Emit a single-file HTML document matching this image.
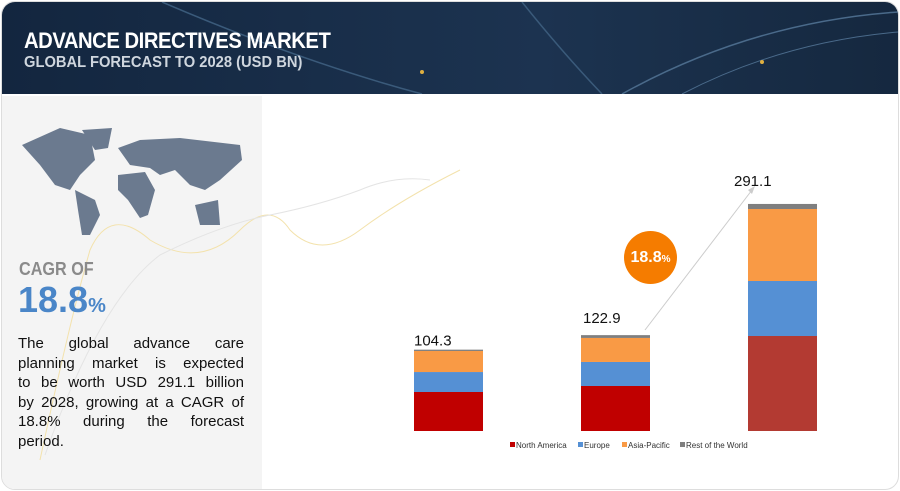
<!DOCTYPE html>
<html><head><meta charset="utf-8"><style>
body{margin:0;width:900px;height:491px;background:#fff;font-family:"Liberation Sans",sans-serif;overflow:hidden;position:relative}
.abs{position:absolute}
.ln{text-align:justify;text-align-last:justify;height:19.5px}
</style></head><body>
<div class="abs" style="left:1px;top:1px;width:896px;height:487px;border:1px solid #ddd;border-radius:14px;overflow:hidden">
<div class="abs" style="left:0;top:0;width:896px;height:92px;background:linear-gradient(90deg,#13263f,#1c3350 60%,#15283f)">
<svg width="896" height="92" class="abs" style="left:0;top:0">
<path d="M160 0 Q300 60 420 92" stroke="#3a5a7a" fill="none" stroke-width="1.5"/>
<path d="M520 0 Q560 50 600 92" stroke="#3a5a7a" fill="none" stroke-width="1.5"/>
<path d="M620 92 Q750 20 896 10" stroke="#4a6a8a" fill="none" stroke-width="1.5"/>
<path d="M680 92 Q780 40 896 30" stroke="#4a6a8a" fill="none" stroke-width="1"/>
<circle cx="420" cy="70" r="2" fill="#e0b040"/><circle cx="760" cy="60" r="2" fill="#e0b040"/>
</svg>
<div class="abs" style="left:22px;top:26px;color:#fff;font-weight:bold;font-size:22px;letter-spacing:-0.5px;transform:scaleX(0.92);transform-origin:left">ADVANCE DIRECTIVES MARKET</div>
<div class="abs" style="left:22px;top:52px;color:#cfd6de;font-weight:bold;font-size:16px;transform:scaleX(0.92);transform-origin:left">GLOBAL FORECAST TO 2028 (USD BN)</div>
</div>
<div class="abs" style="left:0;top:94px;width:260px;height:395px;background:#f4f4f4"></div>
</div>
<svg class="abs" style="left:0;top:0" width="900" height="491">
<path d="M40 460 Q70 320 90 250 Q110 205 150 240 Q200 270 240 230 Q270 200 290 230 Q320 260 360 230 Q400 200 460 170" stroke="#f3e2ac" fill="none" stroke-width="1"/>
<path d="M45 455 Q100 300 160 255 Q220 225 270 215 Q320 205 360 190 Q395 175 430 180" stroke="#e4e4e4" fill="none" stroke-width="1"/>
<g fill="#6b7a8f">
<path d="M22 145 L60 128 L90 135 L95 160 L80 175 L70 190 L55 185 L40 165Z"/>
<path d="M82 130 L112 128 L108 148 L95 150Z"/>
<path d="M75 190 L95 200 L100 215 L90 235 L82 235 L78 210Z"/>
<path d="M118 148 L140 140 L180 138 L240 145 L242 160 L220 180 L205 190 L190 185 L175 170 L160 175 L150 168 L130 165Z"/>
<path d="M118 175 L145 172 L155 190 L148 215 L140 218 L128 200 L118 190Z"/>
<path d="M195 205 L218 200 L220 225 L200 225Z"/>
</g>
<line x1="645" y1="330" x2="752" y2="190" stroke="#ccc" stroke-width="1"/>
<polygon points="755,186 748,190 752,194" fill="#ccc"/>
</svg>
<div class="abs" style="left:19px;top:259px;color:#8a8a8a;font-weight:bold;font-size:18px;transform:scaleX(0.9);transform-origin:left">CAGR OF</div>
<div class="abs" style="left:18px;top:279px;color:#4a86c8;font-weight:bold;font-size:36px">18.8<span style="font-size:20px">%</span></div>
<div class="abs" style="left:18px;top:334px;width:226px;color:#111;font-size:15px;line-height:19.5px">
<div class="ln">The global advance care</div>
<div class="ln">planning market is expected</div>
<div class="ln">to be worth USD 291.1 billion</div>
<div class="ln">by 2028, growing at a CAGR of</div>
<div class="ln">18.8% during the forecast</div>
<div>period.</div>
</div>
<div class="abs" style="left:624px;top:231px;width:53px;height:53px;border-radius:50%;background:#f57c00;color:#fff;font-weight:bold;font-size:16px;line-height:53px;text-align:center">18.8<span style="font-size:10px">%</span></div>
<svg id="chart" class="abs" style="left:0;top:0" width="900" height="491"></svg>
<script>
const categories=["2022","2023","2028"];
const totals=[104.3,122.9,291.1];
const northAmerica=[50,57.7,121.8];
const europe=[25.6,30.8,70.5];
const asiaPacific=[27,30.8,92.3];
const restOfWorld=[1.7,3.6,6.5];
const seriesNames=["North America","Europe","Asia-Pacific","Rest of the World"];
const svg=document.getElementById('chart');
const NS='http://www.w3.org/2000/svg';
const base=431,scale=0.78,x0=414,step=167,bw=69;
const xPos=i=>x0+i*step;
const yPos=v=>base-v*scale;
const series=[northAmerica,europe,asiaPacific,restOfWorld];
const colorsA=["#c00000","#5590d4","#f99a45","#7f7f7f"];
const colorsLast=["#b33a32","#5590d4","#f99a45","#7f7f7f"];
categories.forEach((c,i)=>{
  let acc=0;
  series.forEach((s,k)=>{
    const r=document.createElementNS(NS,'rect');
    
    
    r.setAttribute('x',xPos(i));r.setAttribute('width',bw);
    r.setAttribute('y',yPos(acc+s[i]));r.setAttribute('height',s[i]*scale);
    r.setAttribute('fill',(i===2?colorsLast:colorsA)[k]);
    svg.appendChild(r);acc+=s[i];
  });
  const t=document.createElementNS(NS,'text');
  
  
  t.setAttribute('x',xPos(i)+(i===2?-14:i===1?2:0));t.setAttribute('y',yPos(totals[i])-(i===0?4:i===1?12:18));
  t.setAttribute('font-size','15');t.setAttribute('fill','#111');
  t.textContent=totals[i].toFixed(1);svg.appendChild(t);
});
const lx=[510,578,622,680];
seriesNames.forEach((n,k)=>{
  const g=document.createElementNS(NS,'g');
  
  
  const r=document.createElementNS(NS,'rect');
  r.setAttribute('x',lx[k]);r.setAttribute('y',442);r.setAttribute('width',5);r.setAttribute('height',5);r.setAttribute('fill',colorsA[k]);
  const t=document.createElementNS(NS,'text');
  t.setAttribute('x',lx[k]+6);t.setAttribute('y',448);t.setAttribute('font-size','8');t.setAttribute('fill','#333');
  t.textContent=n;g.appendChild(r);g.appendChild(t);svg.appendChild(g);
});
</script>
</body></html>
